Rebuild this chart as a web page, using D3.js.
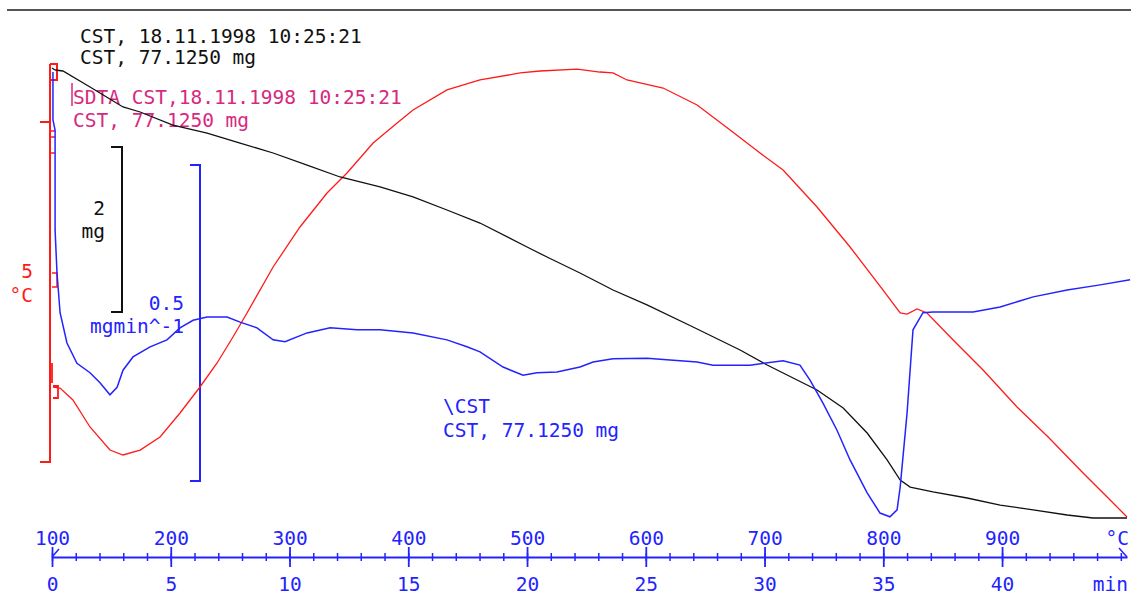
<!DOCTYPE html>
<html><head><meta charset="utf-8">
<script src="https://cdn.jsdelivr.net/npm/d3@7/dist/d3.min.js"></script>
<style>
html,body{margin:0;padding:0;background:#fff;}
svg{display:block;}
text{font-family:"DejaVu Sans Mono",monospace;font-size:19.5px;}
</style></head>
<body>
<script>
// ---- data (time in min) ----
const tgTime = [0.13,0.46,1.60,2.99,3.71,5.09,6.53,7.92,9.31,10.74,12.13,13.81,15.20,16.63,18.02,20.00,20.84,22.23,23.62,25.05,26.99,28.97,30.11,32.21,33.31,34.32,35.16,35.71,36.13,37.09,38.53,39.92,41.31,42.74,43.83,45.26];
const tgMass = [77.125,77.113,76.919,76.677,76.616,76.458,76.361,76.240,76.119,75.973,75.828,75.707,75.586,75.428,75.270,74.980,74.858,74.664,74.458,74.277,74.010,73.731,73.549,73.246,73.028,72.725,72.398,72.155,72.070,72.010,71.937,71.852,71.792,71.731,71.695,71.695];

const sdtaTime = [0.04,0.34,0.88,1.60,2.44,2.99,3.71,4.55,5.39,6.23,6.95,7.62,8.21,9.31,10.44,11.58,12.42,13.52,14.53,15.20,16.63,18.02,19.71,20.55,22.11,23.07,23.62,24.21,25.73,27.16,28.55,29.81,30.78,32.21,33.60,34.99,35.71,36.00,36.42,36.84,37.94,39.20,40.63,41.94,43.41,44.55,45.26];
const sdtaDelta = [1.103,1.088,0.912,0.515,0.176,0.103,0.176,0.368,0.721,1.103,1.456,1.838,2.191,2.868,3.456,3.956,4.250,4.691,4.985,5.176,5.471,5.618,5.721,5.750,5.779,5.735,5.721,5.618,5.500,5.250,4.882,4.544,4.294,3.750,3.162,2.529,2.191,2.176,2.250,2.191,1.794,1.353,0.809,0.368,-0.162,-0.559,-0.809];

const dtgTime = [0.04,0.04,0.13,0.13,0.21,0.34,0.63,1.05,1.60,2.02,2.44,2.74,2.99,3.41,4.13,4.84,5.39,5.94,6.53,7.37,7.92,8.63,9.31,9.81,10.74,11.71,12.84,13.81,15.20,16.63,17.47,18.02,18.99,19.83,20.42,21.26,22.23,22.78,23.62,25.05,26.02,27.16,27.83,29.39,30.78,31.49,31.92,32.46,33.05,33.60,34.32,34.86,35.28,35.58,35.71,36.00,36.25,36.67,37.09,38.78,39.92,41.31,42.74,44.13,45.39];
const dtgRate = [-0.003,-0.079,-0.095,-0.253,-0.321,-0.384,-0.432,-0.464,-0.479,-0.495,-0.514,-0.502,-0.475,-0.454,-0.438,-0.427,-0.408,-0.396,-0.391,-0.391,-0.399,-0.408,-0.427,-0.430,-0.416,-0.408,-0.411,-0.411,-0.416,-0.427,-0.438,-0.446,-0.470,-0.483,-0.479,-0.478,-0.470,-0.462,-0.457,-0.456,-0.459,-0.462,-0.467,-0.467,-0.460,-0.467,-0.491,-0.527,-0.570,-0.617,-0.669,-0.701,-0.707,-0.696,-0.660,-0.543,-0.411,-0.384,-0.383,-0.383,-0.375,-0.359,-0.348,-0.340,-0.332];

const minuteTicks = [0,5,10,15,20,25,30,35,40];
const tempTicks = [100,200,300,400,500,600,700,800,900];

const W = 1131, H = 597;
const svg = d3.select("body").append("svg").attr("width", W).attr("height", H);

const x = d3.scaleLinear().domain([0, 45.26]).range([52, 1127]);
const xTemp = d3.scaleLinear().domain([100, 100 + 20 * 45.26]).range([52, 1127]);
const yTG = d3.scaleLinear().domain([77.125, 75.125]).range([70, 235]);
const yDTG = d3.scaleLinear().domain([0, -0.5]).range([70, 386]);
const ySDTA = d3.scaleLinear().domain([0, 5]).range([462, 122]);

const BLUE = "#2323ff", RED = "#ff1a1a", MAG = "#d62a80", BLK = "#111";

// top border
svg.append("line").attr("x1", 7).attr("x2", W).attr("y1", 10).attr("y2", 10)
  .attr("stroke", "#555").attr("stroke-width", 2);

// header texts
const txt = (s, xx, yy, c, anchor) => svg.append("text").attr("x", xx).attr("y", yy)
  .attr("fill", c).attr("text-anchor", anchor || "start").text(s);
txt("CST, 18.11.1998 10:25:21", 80, 43, BLK);
txt("CST, 77.1250 mg", 80, 64, BLK);
txt("SDTA CST,18.11.1998 10:25:21", 73, 104, MAG);
txt("CST, 77.1250 mg", 73, 127, MAG);
svg.append("line").attr("x1", 72).attr("x2", 72).attr("y1", 83).attr("y2", 106).attr("stroke", MAG).attr("stroke-width", 1.5);
txt("\\CST", 443, 413, BLUE);
txt("CST, 77.1250 mg", 443, 437, BLUE);

// red SDTA scale bar
svg.append("path").attr("d", "M50,64V462H40M40,122H50").attr("fill", "none").attr("stroke", RED).attr("stroke-width", 2);
svg.append("path").attr("d", "M50,64H57V80H50").attr("fill", "none").attr("stroke", RED).attr("stroke-width", 2);
svg.append("path").attr("d", "M50,131H55M50,137H55M50,153H55").attr("fill", "none").attr("stroke", RED).attr("stroke-width", 1.5);
svg.append("path").attr("d", "M52,273H57V287H52").attr("fill", "none").attr("stroke", RED).attr("stroke-width", 1.5);
svg.append("path").attr("d", "M52,363V383M53,386H58V398H53").attr("fill", "none").attr("stroke", RED).attr("stroke-width", 1.8);
txt("5", 33, 278, RED, "end");
txt("°C", 33, 302, RED, "end");

// black TG scale bar
svg.append("path").attr("d", "M111,147H122V312H111").attr("fill", "none").attr("stroke", BLK).attr("stroke-width", 2);
txt("2", 105, 215, BLK, "end");
txt("mg", 105, 238, BLK, "end");

// blue DTG scale bar
svg.append("path").attr("d", "M190,165H200V481H190").attr("fill", "none").attr("stroke", BLUE).attr("stroke-width", 2);
txt("0.5", 184, 310, BLUE, "end");
txt("mgmin^-1", 184, 333, BLUE, "end");

// curves
const line = (xs, ys, yScale) => d3.line()(xs.map((t, i) => [x(t), yScale(ys[i])]));
svg.append("path").attr("d", line(sdtaTime, sdtaDelta, ySDTA)).attr("fill", "none").attr("stroke", RED).attr("stroke-width", 1.3);
svg.append("path").attr("d", line(tgTime, tgMass, yTG)).attr("fill", "none").attr("stroke", BLK).attr("stroke-width", 1.3);
svg.append("path").attr("d", "M52,68L55,70").attr("stroke", BLK).attr("stroke-width", 1.3);
svg.append("path").attr("d", line(dtgTime, dtgRate, yDTG)).attr("fill", "none").attr("stroke", BLUE).attr("stroke-width", 1.5);

// axis
const ax = svg.append("g").attr("transform", "translate(0,557)").attr("color", BLUE);
const minorG = ax.append("g").call(d3.axisBottom(x).tickValues(d3.range(0, 46, 1)).tickSize(4).tickSizeOuter(0).tickFormat(""));
minorG.selectAll(".tick line").attr("y1", -4).attr("stroke-width", 1.5);
minorG.select(".domain").attr("stroke-width", 2);
const majorG = ax.append("g").call(d3.axisBottom(x).tickValues(minuteTicks).tickSize(10).tickFormat(d3.format("d")));
majorG.select(".domain").remove();
majorG.selectAll(".tick line").attr("y1", -10).attr("stroke-width", 1.8);
majorG.selectAll(".tick text").attr("y", 34).attr("dy", 0).attr("fill", BLUE)
  .style("font-family", "DejaVu Sans Mono").style("font-size", "19.5px");
const tempG = ax.append("g").call(d3.axisTop(xTemp).tickValues(tempTicks).tickSize(0).tickFormat(d3.format("d")));
tempG.select(".domain").remove();
tempG.selectAll(".tick text").attr("y", -12).attr("dy", 0).attr("fill", BLUE)
  .style("font-family", "DejaVu Sans Mono").style("font-size", "19.5px");
svg.append("path").attr("d", "M52,557L59,549M1119,548L1127,557").attr("stroke", BLUE).attr("stroke-width", 1.5).attr("fill", "none");
txt("°C", 1129, 545, BLUE, "end");
txt("min", 1128, 591, BLUE, "end");
</script>
</body></html>
